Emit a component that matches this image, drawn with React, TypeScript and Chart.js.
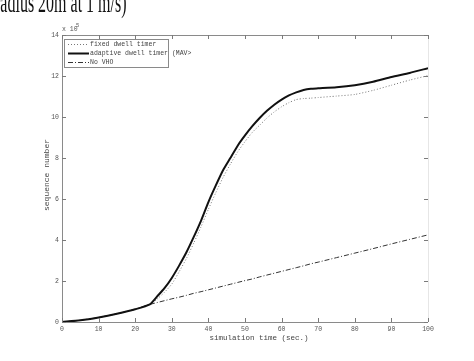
import React, { useEffect, useRef } from 'react';
import { Chart, registerables } from 'chart.js';

Chart.register(...registerables);

const timeValues = [0, 5, 10, 15, 20, 24, 26, 28, 30, 32, 34, 36, 38, 40, 42, 44, 46, 48, 50, 52, 54, 56, 58, 60, 62, 64, 66, 68, 70, 75, 80, 85, 90, 95, 100];
const adaptiveValues = [0, 0.08, 0.22, 0.4, 0.62, 0.86, 1.25, 1.65, 2.15, 2.75, 3.4, 4.15, 4.95, 5.85, 6.65, 7.4, 8.0, 8.6, 9.1, 9.55, 9.95, 10.3, 10.6, 10.85, 11.05, 11.2, 11.32, 11.38, 11.4, 11.45, 11.55, 11.72, 11.95, 12.15, 12.38];
const fixedValues = [0, 0.08, 0.22, 0.4, 0.62, 0.86, 1.12, 1.45, 1.85, 2.45, 3.1, 3.85, 4.65, 5.5, 6.3, 7.05, 7.7, 8.3, 8.8, 9.25, 9.6, 9.95, 10.25, 10.5, 10.7, 10.85, 10.9, 10.92, 10.95, 11.02, 11.1, 11.3, 11.55, 11.8, 12.02];
const noVhoValues = [0, 0.08, 0.22, 0.4, 0.62, 0.86, 0.95, 1.04, 1.13, 1.21, 1.3, 1.4, 1.48, 1.57, 1.66, 1.75, 1.84, 1.93, 2.02, 2.1, 2.2, 2.29, 2.38, 2.47, 2.56, 2.65, 2.74, 2.84, 2.92, 3.14, 3.36, 3.58, 3.81, 4.03, 4.25];
const xTicks = [0, 10, 20, 30, 40, 50, 60, 70, 80, 90, 100];
const yTicks = [0, 2, 4, 6, 8, 10, 12, 14];
const seriesLabels = ['fixed dwell timer', 'adaptive dwell timer (MAV>', 'No VHO'];
const xTitle = 'simulation time (sec.)';
const yTitle = 'sequence number';
const topText = 'radius 20m at 1 m/s)';

const MONO = '"Liberation Mono", "DejaVu Sans Mono", monospace';

const toPoints = (ys: number[]) => timeValues.map((t, i) => ({ x: t, y: ys[i] }));

const framePlugin = {
  id: 'frame',
  afterDatasetsDraw(chart: any) {
    const { ctx, chartArea: a, scales } = chart;
    const xs = scales.x;
    const ys = scales.y;
    ctx.save();
    ctx.lineWidth = 1;
    ctx.strokeStyle = '#8a8a8a';
    ctx.beginPath();
    ctx.moveTo(a.left + 0.5, a.top);
    ctx.lineTo(a.left + 0.5, a.bottom + 0.5);
    ctx.lineTo(a.right, a.bottom + 0.5);
    ctx.moveTo(a.left, a.top + 0.5);
    ctx.lineTo(a.right, a.top + 0.5);
    ctx.stroke();
    ctx.strokeStyle = '#e6e6e6';
    ctx.beginPath();
    ctx.moveTo(a.right + 0.5, a.top);
    ctx.lineTo(a.right + 0.5, a.bottom);
    ctx.stroke();
    ctx.strokeStyle = '#7a7a7a';
    ctx.beginPath();
    xTicks.forEach((v) => {
      const px = Math.round(xs.getPixelForValue(v)) + 0.5;
      ctx.moveTo(px, a.bottom);
      ctx.lineTo(px, a.bottom - 4);
      ctx.moveTo(px, a.top);
      ctx.lineTo(px, a.top + 4);
    });
    yTicks.forEach((v) => {
      const py = Math.round(ys.getPixelForValue(v)) + 0.5;
      ctx.moveTo(a.left, py);
      ctx.lineTo(a.left + 4, py);
      ctx.moveTo(a.right, py);
      ctx.lineTo(a.right - 4, py);
    });
    ctx.stroke();

    const bx = 64, by = 39, bw = 104, bh = 28;
    ctx.fillStyle = '#ffffff';
    ctx.fillRect(bx, by, bw, bh);
    const rows = [44, 53, 62];
    const styles = [
      { color: '#777777', width: 1, dash: [1, 2] },
      { color: '#111111', width: 2, dash: [] },
      { color: '#333333', width: 1, dash: [5, 2, 1, 2] },
    ];
    rows.forEach((ry, i) => {
      ctx.strokeStyle = styles[i].color;
      ctx.lineWidth = styles[i].width;
      ctx.setLineDash(styles[i].dash);
      ctx.beginPath();
      ctx.moveTo(68, ry + 0.5);
      ctx.lineTo(89, ry + 0.5);
      ctx.stroke();
    });
    ctx.setLineDash([]);
    ctx.fillStyle = '#444444';
    ctx.font = `6.5px ${MONO}`;
    ctx.textBaseline = 'middle';
    ctx.textAlign = 'left';
    rows.forEach((ry, i) => {
      ctx.fillText(seriesLabels[i], 90, ry + 0.5);
    });
    ctx.lineWidth = 1;
    ctx.strokeStyle = '#8a8a8a';
    ctx.strokeRect(bx + 0.5, by + 0.5, bw, bh);

    ctx.fillStyle = '#555555';
    ctx.font = `6.5px ${MONO}`;
    ctx.textBaseline = 'alphabetic';
    ctx.fillText('x 10', 62, 31);
    ctx.font = `5.5px ${MONO}`;
    ctx.fillText('5', 76, 27);

    ctx.fillStyle = '#444444';
    ctx.font = `7.5px ${MONO}`;
    ctx.textAlign = 'center';
    ctx.textBaseline = 'middle';
    ctx.fillText(xTitle, 259, 338);
    ctx.save();
    ctx.translate(47, 175);
    ctx.rotate(-Math.PI / 2);
    ctx.font = `8px ${MONO}`;
    ctx.fillText(yTitle, 0, 0);
    ctx.restore();
    ctx.restore();
  },
};

export default function App() {
  const ref = useRef<HTMLCanvasElement | null>(null);
  useEffect(() => {
    if (!ref.current) return;
    const chart = new Chart(ref.current, {
      type: 'line',
      data: {
        datasets: [
          {
            label: seriesLabels[1],
            data: toPoints(adaptiveValues),
            borderColor: '#111111',
            borderWidth: 2,
            pointRadius: 0,
            tension: 0.2,
            order: 0,
          },
          {
            label: seriesLabels[0],
            data: toPoints(fixedValues),
            borderColor: '#777777',
            borderWidth: 1,
            borderDash: [1, 2],
            pointRadius: 0,
            tension: 0.2,
            order: 1,
          },
          {
            label: seriesLabels[2],
            data: toPoints(noVhoValues),
            borderColor: '#333333',
            borderWidth: 1,
            borderDash: [5, 2, 1, 2],
            pointRadius: 0,
            order: 2,
          },
        ],
      },
      options: {
        animation: false,
        responsive: true,
        maintainAspectRatio: false,
        layout: { padding: { left: 0, top: 35, right: 46, bottom: 0 } },
        plugins: { legend: { display: false }, tooltip: { enabled: false } },
        scales: {
          x: {
            type: 'linear',
            min: 0,
            max: 100,
            afterBuildTicks: (s: any) => { s.ticks = xTicks.map((v) => ({ value: v })); },
            afterFit: (s: any) => { s.height = 39; },
            ticks: { font: { family: MONO, size: 6.5 }, color: '#555555', padding: 3, maxRotation: 0, autoSkip: false },
            grid: { display: false, drawTicks: false },
            border: { display: false },
          },
          y: {
            type: 'linear',
            min: 0,
            max: 14,
            afterBuildTicks: (s: any) => { s.ticks = yTicks.map((v) => ({ value: v })); },
            afterFit: (s: any) => { s.width = 62; },
            ticks: { font: { family: MONO, size: 6.5 }, color: '#555555', padding: 3, autoSkip: false },
            grid: { display: false, drawTicks: false },
            border: { display: false },
          },
        },
      },
      plugins: [framePlugin],
    } as any);
    return () => chart.destroy();
  }, []);

  return (
    <div style={{ position: 'absolute', left: 0, top: 0, width: 474, height: 361, overflow: 'hidden', background: '#ffffff' }}>
      <div style={{ position: 'absolute', left: 0, top: 0, width: 474, height: 361 }}>
        <canvas ref={ref} />
      </div>
      <div
        style={{
          position: 'absolute',
          left: -5,
          top: 0,
          fontFamily: '"Liberation Serif", serif',
          fontSize: 16,
          lineHeight: '16px',
          color: '#111111',
          whiteSpace: 'nowrap',
          transform: 'scaleY(1.8)',
          transformOrigin: '0px 14px',
        }}
      >
        {topText}
      </div>
    </div>
  );
}
